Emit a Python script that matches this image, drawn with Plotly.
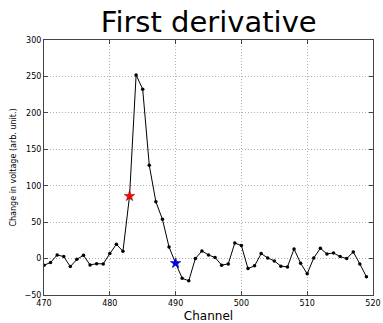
import plotly.graph_objects as go

channels = list(range(470, 520))
values = [-9, -5.5, 5, 2.7, -11, -1, 4.5, -8.7, -7, -7.3,
          6.8, 19.6, 10, 85.7, 252, 232.5, 128, 78, 53.8, 15.9,
          -6.4, -27, -30.6, 0, 10.4, 5, 1.4, -9, -7.3, 21.4,
          17.8, -13.7, -10, 6.8, 0.9, -3.2, -10.5, -11.4, 13.2, -6.4,
          -21, 0.9, 14.1, 6.4, 7.7, 2.7, 0, 9, -7.3, -25]
red_ch = [483]
red_val = [85.7]
blue_ch = [490]
blue_val = [-6.4]
xticks = [470, 480, 490, 500, 510, 520]
yticks = [-50, 0, 50, 100, 150, 200, 250, 300]

fig = go.Figure()
fig.add_trace(go.Scatter(x=channels, y=values, mode="lines+markers",
                         line=dict(color="black", width=1),
                         marker=dict(color="black", size=3.5), showlegend=False))
fig.add_trace(go.Scatter(x=red_ch, y=red_val, mode="markers",
                         marker=dict(symbol="star", color="red", size=8,
                                     line=dict(color="darkred", width=0.5)),
                         showlegend=False))
fig.add_trace(go.Scatter(x=blue_ch, y=blue_val, mode="markers",
                         marker=dict(symbol="star", color="blue", size=8,
                                     line=dict(color="navy", width=0.5)),
                         showlegend=False))

axis_common = dict(showline=True, linecolor="#444", linewidth=1, mirror="ticks",
                   ticks="inside", ticklen=4, tickcolor="#444", automargin=False,
                   showgrid=True, gridcolor="#b0b0b0", griddash="1px,2px", gridwidth=1,
                   zeroline=False, tickfont=dict(size=8, color="black"))

fig.update_layout(
    width=383, height=323,
    margin=dict(l=44, r=10, t=40, b=28),
    paper_bgcolor="white", plot_bgcolor="white",
    font=dict(family="DejaVu Sans", color="black"),
    title=dict(text="First derivative", font=dict(size=29, color="black"),
               x=0.545, xanchor="center", yref="container", y=0.965, yanchor="top",
               automargin=False),
    xaxis=dict(range=[470, 520], tickvals=xticks,
               title=dict(text="Channel", font=dict(size=12), standoff=5), **axis_common),
    yaxis=dict(range=[-50, 300], tickvals=yticks,
               title=dict(text="Change in voltage (arb. unit.)", font=dict(size=8), standoff=6),
               **axis_common),
)

fig.write_html("out.html")
